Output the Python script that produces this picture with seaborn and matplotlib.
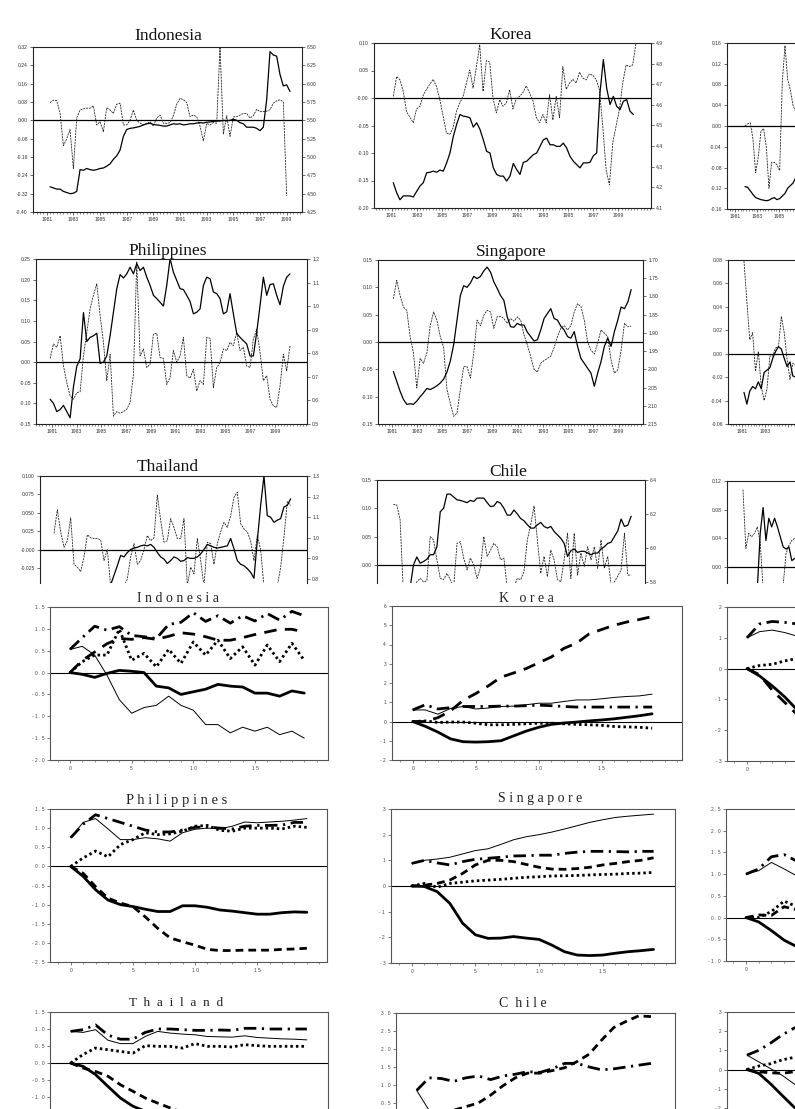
import numpy as np
import matplotlib
matplotlib.use("Agg")
import matplotlib.pyplot as plt
import seaborn as sns
from matplotlib.ticker import MultipleLocator

sns.set_theme(style="white")
plt.rcParams["font.family"] = ["Liberation Sans", "DejaVu Sans"]
plt.rcParams["axes.linewidth"] = 0.8

# ---------------------------------------------------------------- data: time series (top)
years_major = [1981, 1983, 1985, 1987, 1989, 1991, 1993, 1995, 1997, 1999]

indo_solid = [-0.29, -0.295, -0.30, -0.30, -0.31, -0.315, -0.32, -0.318, -0.31, -0.215,
              -0.218, -0.21, -0.215, -0.218, -0.215, -0.21, -0.208, -0.20, -0.19, -0.17,
              -0.155, -0.13, -0.07, -0.04, -0.035, -0.033, -0.03, -0.026, -0.02, -0.015,
              -0.013, -0.018, -0.02, -0.022, -0.025, -0.025, -0.02, -0.015, -0.017, -0.015,
              -0.02, -0.018, -0.015, -0.015, -0.012, -0.01, -0.012, -0.008, -0.007, -0.005,
              -0.003, -0.003, 0.0, -0.002, 0.0, 0.005, 0.0, -0.01, -0.015, -0.03,
              -0.03, -0.03, -0.035, -0.045, -0.03, 0.09, 0.30, 0.285, 0.28, 0.2,
              0.15, 0.155, 0.126]
indo_dashed = [0.077, 0.088, 0.086, 0.03, -0.11, -0.08, -0.04, -0.21, 0.01, 0.045,
               0.05, 0.053, 0.053, 0.063, -0.02, -0.006, -0.05, 0.055, 0.045, 0.03,
               0.07, 0.075, -0.02, -0.02, 0.0, 0.045, 0.0, -0.012, -0.02, -0.015,
               -0.006, -0.025, 0.01, 0.023, -0.013, -0.013, -0.01, 0.02, 0.07, 0.096,
               0.09, 0.078, 0.016, 0.023, 0.016, -0.025, -0.09, -0.013, -0.02, -0.01,
               -0.013, 0.32, -0.06, 0.02, -0.07, 0.015, 0.016, 0.023, 0.03, 0.03,
               0.01, 0.02, 0.048, 0.038, 0.038, 0.04, 0.046, 0.075, 0.085, 0.09,
               0.08, -0.33]

korea_solid = [-0.154, -0.172, -0.185, -0.178, -0.178, -0.178, -0.18, -0.17, -0.16, -0.154,
               -0.136, -0.135, -0.133, -0.135, -0.131, -0.133, -0.118, -0.1, -0.07, -0.048,
               -0.03, -0.033, -0.034, -0.036, -0.053, -0.045, -0.057, -0.076, -0.097, -0.1,
               -0.127, -0.139, -0.142, -0.142, -0.151, -0.142, -0.119, -0.13, -0.139, -0.117,
               -0.115, -0.109, -0.103, -0.1, -0.088, -0.076, -0.073, -0.085, -0.085, -0.088,
               -0.088, -0.082, -0.091, -0.106, -0.115, -0.121, -0.127, -0.118, -0.118, -0.117,
               -0.105, -0.1, 0.01, 0.07, 0.018, -0.012, 0.003, -0.015, -0.021, -0.006,
               -0.003, -0.024, -0.03]
korea_dashed = [0.003, 0.039, 0.033, 0.012, -0.025, -0.035, -0.045, -0.02, -0.015, 0.005,
                0.016, 0.025, 0.034, 0.021, -0.003, -0.033, -0.064, -0.066, -0.054, -0.024,
                -0.009, 0.003, 0.027, 0.051, 0.018, 0.057, 0.097, 0.012, 0.068, 0.065,
                0.0, -0.027, -0.003, -0.015, -0.009, 0.015, -0.02, -0.001, 0.003, 0.01,
                0.022, 0.009, -0.005, -0.035, -0.045, -0.03, -0.045, 0.006, -0.04, 0.003,
                -0.036, 0.057, 0.016, 0.027, 0.034, 0.027, 0.047, 0.036, 0.033, 0.044,
                0.041, 0.034, 0.015, -0.051, -0.13, -0.158, -0.082, -0.051, -0.021, 0.027,
                0.06, 0.057, 0.06, 0.10]

c3a_solid = [-0.117, -0.118, -0.125, -0.132, -0.138, -0.14, -0.142, -0.143, -0.144, -0.143,
             -0.14, -0.138, -0.142, -0.14, -0.135, -0.13, -0.12, -0.115, -0.11, -0.10, -0.09]
c3a_dashed = [0.0, 0.004, 0.006, -0.025, -0.09, -0.06, -0.01, -0.005, -0.04, -0.12,
              -0.07, -0.07, -0.075, -0.086, 0.085, 0.155, 0.09, 0.07, 0.04, 0.028, 0.02]

phil_solid = [-0.09, -0.10, -0.12, -0.115, -0.105, -0.12, -0.135, -0.06, -0.01, 0.008,
              0.12, 0.05, 0.06, 0.064, 0.07, -0.003, 0.0, 0.015, 0.064, 0.121,
              0.178, 0.212, 0.204, 0.214, 0.23, 0.214, 0.239, 0.222, 0.23, 0.206,
              0.186, 0.162, 0.154, 0.145, 0.136, 0.186, 0.251, 0.218, 0.198, 0.178,
              0.176, 0.162, 0.147, 0.117, 0.121, 0.129, 0.186, 0.206, 0.202, 0.17,
              0.166, 0.154, 0.117, 0.122, 0.166, 0.117, 0.07, 0.06, 0.052, 0.044,
              0.015, 0.015, 0.072, 0.137, 0.206, 0.162, 0.188, 0.19, 0.162, 0.139,
              0.184, 0.206, 0.214]
phil_dashed = [0.009, 0.044, 0.036, 0.064, -0.009, -0.05, -0.082, -0.09, -0.074, -0.072,
               0.015, 0.072, 0.129, 0.162, 0.19, 0.113, 0.048, -0.045, 0.019, -0.131,
               -0.12, -0.124, -0.12, -0.114, -0.098, -0.03, 0.243, 0.015, 0.032, -0.013,
               -0.005, 0.068, 0.07, 0.011, 0.009, -0.054, -0.037, 0.028, 0.0, 0.015,
               0.06, -0.033, -0.039, -0.017, -0.07, -0.045, -0.054, 0.06, 0.058, -0.062,
               -0.013, -0.001, 0.032, 0.028, 0.048, 0.04, 0.072, 0.028, 0.036, -0.009,
               -0.013, 0.056, 0.08, 0.024, -0.045, -0.033, -0.09, -0.106, -0.11, -0.058,
               0.019, -0.021, 0.04]

sing_solid = [-0.054, -0.072, -0.09, -0.105, -0.114, -0.113, -0.114, -0.108, -0.1, -0.093,
              -0.085, -0.087, -0.084, -0.08, -0.075, -0.068, -0.055, -0.035, -0.005, 0.04,
              0.085, 0.103, 0.1, 0.108, 0.12, 0.116, 0.12, 0.13, 0.137, 0.128,
              0.11, 0.098, 0.085, 0.076, 0.046, 0.028, 0.027, 0.034, 0.031, 0.031,
              0.018, 0.01, 0.002, 0.004, 0.022, 0.043, 0.052, 0.061, 0.043, 0.04,
              0.029, 0.022, 0.01, 0.007, 0.019, -0.008, -0.03, -0.039, -0.048, -0.057,
              -0.081, -0.057, -0.036, -0.008, 0.007, -0.008, 0.019, 0.04, 0.064, 0.061,
              0.073, 0.096]
sing_dashed = [0.079, 0.113, 0.085, 0.064, 0.058, 0.01, -0.02, -0.084, -0.03, -0.039,
               -0.02, 0.03, 0.055, 0.04, 0.01, -0.01, -0.087, -0.112, -0.136, -0.13,
               -0.087, -0.045, -0.045, -0.066, -0.02, 0.04, 0.03, 0.049, 0.058, 0.055,
               0.025, 0.046, 0.047, 0.043, 0.034, 0.043, 0.038, 0.046, 0.04, 0.013,
               -0.005, -0.027, -0.05, -0.055, -0.039, -0.034, -0.03, -0.026, -0.01, 0.01,
               0.025, 0.03, 0.022, 0.03, 0.055, 0.07, 0.065, 0.04, 0.0, -0.015,
               -0.022, -0.002, 0.022, 0.016, 0.01, -0.033, -0.057, -0.051, -0.015, 0.034,
               0.028, 0.029]

c3b_solid = [-0.033, -0.043, -0.032, -0.028, -0.03, -0.024, -0.03, -0.016, -0.014, -0.012,
             -0.004, 0.002, 0.006, 0.004, -0.004, -0.011, -0.007, -0.019, -0.02]
c3b_dashed = [0.079, 0.045, 0.012, 0.018, -0.015, 0.002, -0.028, -0.04, -0.03, -0.002,
              -0.002, 0.005, 0.006, 0.032, 0.018, -0.005, -0.022, -0.008, -0.01]

thai_solid = [-0.07, -0.07, -0.07, -0.07, -0.07, -0.07, -0.065, -0.065, -0.065, -0.065,
              -0.065, -0.065, -0.065, -0.06, -0.06, -0.06, -0.055, -0.048, -0.035, -0.022,
              -0.008, -0.01, -0.004, 0.0, 0.002, 0.003, 0.005, 0.006, 0.005, 0.007,
              0.003, -0.004, -0.01, -0.013, -0.019, -0.015, -0.01, -0.012, -0.016, -0.015,
              -0.011, -0.012, -0.012, -0.01, -0.006, 0.0, 0.007, 0.005, 0.003, 0.002,
              0.003, 0.004, 0.005, 0.015, 0.001, -0.015, -0.02, -0.022, -0.026, -0.031,
              -0.039, 0.012, 0.06, 0.1, 0.046, 0.044, 0.037, 0.04, 0.042, 0.058,
              0.06, 0.069]
thai_dashed = [0.022, 0.054, 0.024, 0.003, 0.012, 0.043, -0.02, -0.024, -0.03, -0.01,
               0.02, 0.016, 0.015, 0.015, 0.013, -0.015, 0.0, -0.05, -0.06, -0.06,
               -0.055, -0.05, -0.04, -0.01, 0.008, -0.02, -0.015, 0.0, 0.019, 0.012,
               0.016, 0.074, 0.04, 0.01, 0.012, 0.042, 0.03, 0.015, 0.015, 0.042,
               -0.049, -0.024, -0.033, 0.015, -0.015, -0.05, 0.01, 0.008, -0.02, 0.008,
               0.024, 0.037, 0.03, 0.046, 0.071, 0.078, 0.035, 0.028, 0.024, 0.012,
               -0.015, 0.019, 0.0, -0.05, -0.06, -0.07, -0.06, -0.05, -0.024, 0.017,
               0.065, 0.06]

chile_solid = [-0.06, -0.06, -0.06, -0.06, -0.055, -0.04, 0.0, 0.014, 0.003, 0.006,
               0.01, 0.018, 0.018, 0.032, 0.094, 0.1, 0.125, 0.125, 0.12, 0.115,
               0.114, 0.112, 0.11, 0.114, 0.112, 0.118, 0.118, 0.118, 0.11, 0.103,
               0.104, 0.112, 0.109, 0.1, 0.088, 0.088, 0.097, 0.09, 0.082, 0.078,
               0.071, 0.065, 0.065, 0.071, 0.075, 0.068, 0.065, 0.068, 0.059, 0.053,
               0.047, 0.038, 0.015, 0.025, 0.028, 0.022, 0.024, 0.024, 0.021, 0.018,
               0.021, 0.021, 0.028, 0.032, 0.038, 0.04, 0.05, 0.06, 0.081, 0.068,
               0.07, 0.086]
chile_dashed = [0.107, 0.106, 0.08, -0.05, -0.05, -0.05, -0.04, -0.03, -0.024, -0.03,
                -0.028, 0.05, 0.044, 0.009, -0.024, -0.026, -0.015, -0.026, -0.04, 0.038,
                0.041, 0.012, -0.009, 0.012, 0.0, -0.024, -0.005, 0.05, 0.015, 0.026,
                0.038, 0.032, 0.009, 0.012, -0.04, -0.045, -0.04, -0.024, -0.026, -0.012,
                0.044, 0.071, 0.104, 0.044, -0.015, 0.015, -0.021, 0.026, 0.009, -0.026,
                -0.03, 0.009, 0.056, -0.024, 0.056, -0.018, 0.021, -0.003, 0.032, 0.009,
                0.032, -0.006, 0.044, -0.006, 0.015, -0.035, -0.03, -0.02, -0.009, 0.056,
                -0.018, -0.018]

c3c_solid = [-0.04, -0.04, -0.04, -0.04, -0.04, -0.03, 0.047, 0.083, 0.037, 0.068,
             0.056, 0.068, 0.056, 0.042, 0.028, 0.025, 0.028, 0.009, 0.012]
c3c_dashed = [0.108, 0.026, 0.047, 0.042, 0.047, 0.056, 0.035, -0.03, -0.03, -0.03,
              -0.03, -0.03, -0.03, -0.03, -0.025, 0.019, 0.03, 0.037, 0.04]

# date spans (first, last observation) of each series
indo_span_s, indo_span_d = (1981.25, 1999.25), (1981.25, 1999.0)
korea_span_s, korea_span_d = (1981.13, 2000.18), (1981.13, 2000.39)
c3a_span = (1981.9, 1986.75)
phil_span = (1980.87, 2000.22)
sing_span = (1981.13, 2000.0)
c3b_span = (1981.17, 1985.67)
thai_span = (1980.92, 2000.0)
chile_span = (1981.13, 2000.0)
c3c_span = (1981.09, 1985.59)

# axis tick values / labels (top)
indo_yt = [-0.40, -0.32, -0.24, -0.16, -0.08, 0.0, 0.08, 0.16, 0.24, 0.32]
indo_yl = ["-0.40", "-0.32", "-0.24", "-0.16", "-0.08", "0.00", "0.08", "0.16", "0.24", "0.32"]
indo_rt = [4.25, 4.5, 4.75, 5.0, 5.25, 5.5, 5.75, 6.0, 6.25, 6.5]
indo_rl = ["4.25", "4.50", "4.75", "5.00", "5.25", "5.50", "5.75", "6.00", "6.25", "6.50"]
korea_yt = [-0.2, -0.15, -0.1, -0.05, 0.0, 0.05, 0.1]
korea_yl = ["-0.20", "-0.15", "-0.10", "-0.05", "-0.00", "0.05", "0.10"]
korea_rt = [4.1, 4.2, 4.3, 4.4, 4.5, 4.6, 4.7, 4.8, 4.9]
korea_rl = ["4.1", "4.2", "4.3", "4.4", "4.5", "4.6", "4.7", "4.8", "4.9"]
c3a_yt = [-0.16, -0.12, -0.08, -0.04, 0.0, 0.04, 0.08, 0.12, 0.16]
c3a_yl = ["-0.16", "-0.12", "-0.08", "-0.04", "0.00", "0.04", "0.08", "0.12", "0.16"]
phil_yt = [-0.15, -0.1, -0.05, 0.0, 0.05, 0.1, 0.15, 0.2, 0.25]
phil_yl = ["-0.15", "-0.10", "-0.05", "0.00", "0.05", "0.10", "0.15", "0.20", "0.25"]
phil_rt = [0.5, 0.6, 0.7, 0.8, 0.9, 1.0, 1.1, 1.2]
phil_rl = ["0.5", "0.6", "0.7", "0.8", "0.9", "1.0", "1.1", "1.2"]
sing_yt = [-0.15, -0.1, -0.05, 0.0, 0.05, 0.1, 0.15]
sing_yl = ["-0.15", "-0.10", "-0.05", "0.00", "0.05", "0.10", "0.15"]
sing_rt = [1.70, 1.75, 1.80, 1.85, 1.90, 1.95, 2.00, 2.05, 2.10, 2.15]
sing_rl = ["1.70", "1.75", "1.80", "1.85", "1.90", "1.95", "2.00", "2.05", "2.10", "2.15"]
c3b_yt = [-0.06, -0.04, -0.02, 0.0, 0.02, 0.04, 0.06, 0.08]
c3b_yl = ["-0.06", "-0.04", "-0.02", "0.00", "0.02", "0.04", "0.06", "0.08"]
thai_yt = [-0.025, 0.0, 0.025, 0.05, 0.075, 0.1]
thai_yl = ["-0.025", "-0.000", "0.025", "0.050", "0.075", "0.100"]
thai_rt = [0.8, 0.9, 1.0, 1.1, 1.2, 1.3]
thai_rl = ["0.8", "0.9", "1.0", "1.1", "1.2", "1.3"]
chile_yt = [0.0, 0.05, 0.1, 0.15]
chile_yl = ["0.00", "0.05", "0.10", "0.15"]
chile_rt = [5.8, 6.0, 6.2, 6.4]
chile_rl = ["5.8", "6.0", "6.2", "6.4"]
c3c_yt = [0.0, 0.04, 0.08, 0.12]
c3c_yl = ["0.00", "0.04", "0.08", "0.12"]

# ---------------------------------------------------------------- data: impulse responses (bottom)
ir_xticks = [0, 5, 10, 15]
ir_xlabels = ["0", "5", "10", "15"]

indo_ir_thick = [0, -0.04, -0.11, -0.02, 0.05, 0.03, 0.0, -0.31, -0.35, -0.5, -0.44, -0.38, -0.27, -0.31, -0.33, -0.47, -0.47, -0.54, -0.42, -0.47]
indo_ir_thin = [0.53, 0.6, 0.4, -0.06, -0.62, -0.93, -0.8, -0.75, -0.54, -0.75, -0.86, -1.19, -1.19, -1.38, -1.25, -1.34, -1.25, -1.42, -1.34, -1.5]
indo_ir_dashdot = [0.53, 0.8, 1.06, 0.97, 1.05, 0.85, 0.82, 0.78, 1.1, 1.15, 1.37, 1.17, 1.3, 1.13, 1.3, 1.18, 1.35, 1.2, 1.4, 1.3]
indo_ir_longdash = [0.0, 0.28, 0.47, 0.66, 0.78, 0.76, 0.8, 0.76, 0.83, 0.91, 0.88, 0.82, 0.74, 0.74, 0.8, 0.87, 0.93, 0.99, 0.99, 0.93]
indo_ir_dotted = [0.0, 0.25, 0.4, 0.4, 0.99, 0.28, 0.44, 0.13, 0.53, 0.21, 0.7, 0.4, 0.74, 0.32, 0.59, 0.17, 0.63, 0.25, 0.67, 0.28]
indo_ir_yt = [-2.0, -1.5, -1.0, -0.5, 0.0, 0.5, 1.0, 1.5]
indo_ir_yl = ["-2.0", "-1.5", "-1.0", "-0.5", "0.0", "0.5", "1.0", "1.5"]

korea_ir_thick = [0, -0.25, -0.55, -0.9, -1.05, -1.07, -1.05, -1.0, -0.75, -0.5, -0.3, -0.15, -0.08, -0.03, 0.03, 0.08, 0.14, 0.22, 0.3, 0.4]
korea_ir_thin = [0.6, 0.6, 0.38, 0.68, 0.78, 0.65, 0.7, 0.78, 0.8, 0.87, 0.95, 0.95, 1.04, 1.12, 1.12, 1.18, 1.25, 1.3, 1.33, 1.42]
korea_ir_longdash = [0, 0.0, 0.2, 0.55, 1.1, 1.45, 1.85, 2.3, 2.52, 2.75, 3.05, 3.35, 3.8, 4.07, 4.55, 4.78, 5.0, 5.17, 5.3, 5.45]
korea_ir_dashdot = [0.6, 0.87, 0.65, 0.72, 0.78, 0.78, 0.78, 0.8, 0.8, 0.82, 0.85, 0.82, 0.78, 0.75, 0.75, 0.75, 0.75, 0.75, 0.75, 0.75]
korea_ir_dotted = [0, 0.03, -0.05, -0.03, -0.03, -0.09, -0.17, -0.17, -0.15, -0.12, -0.09, -0.09, -0.12, -0.15, -0.17, -0.2, -0.26, -0.28, -0.3, -0.35]
korea_ir_yt = [-2, -1, 0, 1, 2, 3, 4, 5, 6]
korea_ir_yl = ["-2", "-1", "0", "1", "2", "3", "4", "5", "6"]

c3a_ir_thick = [0, -0.24, -0.56, -0.92, -1.35, -1.7]
c3a_ir_thin = [1.0, 1.2, 1.25, 1.17, 1.05, 0.95]
c3a_ir_dashdot = [1.0, 1.45, 1.53, 1.5, 1.45, 1.4]
c3a_ir_dotted = [0, 0.1, 0.14, 0.25, 0.33, 0.4]
c3a_ir_longdash = [0, -0.2, -0.7, -1.1, -1.5, -1.8]
c3a_ir_yt = [-3, -2, -1, 0, 1, 2]
c3a_ir_yl = ["-3", "-2", "-1", "0", "1", "2"]

phil_ir_thin = [0.75, 1.15, 1.25, 0.98, 0.7, 0.7, 0.75, 0.72, 0.66, 0.88, 0.97, 1.0, 0.98, 1.05, 1.16, 1.14, 1.16, 1.18, 1.21, 1.25]
phil_ir_dashdot = [0.75, 1.1, 1.35, 1.25, 1.15, 1.05, 0.95, 0.9, 0.9, 0.95, 1.02, 1.03, 1.0, 0.98, 1.05, 1.07, 1.07, 1.08, 1.15, 1.15]
phil_ir_dotted = [0, 0.22, 0.4, 0.25, 0.57, 0.7, 0.88, 0.83, 0.85, 0.92, 1.05, 1.07, 0.94, 0.92, 1.0, 1.0, 1.0, 0.98, 1.05, 1.02]
phil_ir_thick = [0, -0.26, -0.61, -0.88, -1.0, -1.05, -1.12, -1.18, -1.18, -1.03, -1.03, -1.07, -1.14, -1.17, -1.21, -1.25, -1.25, -1.21, -1.19, -1.2]
phil_ir_dash = [0, -0.18, -0.53, -0.83, -0.96, -1.05, -1.32, -1.62, -1.87, -1.97, -2.06, -2.17, -2.2, -2.2, -2.19, -2.19, -2.19, -2.17, -2.16, -2.14]
phil_ir_yt = [-2.5, -2.0, -1.5, -1.0, -0.5, 0.0, 0.5, 1.0, 1.5]
phil_ir_yl = ["-2.5", "-2.0", "-1.5", "-1.0", "-0.5", "0.0", "0.5", "1.0", "1.5"]

sing_ir_thin = [0.88, 1.0, 1.05, 1.12, 1.25, 1.38, 1.45, 1.62, 1.8, 1.92, 2.0, 2.1, 2.22, 2.35, 2.48, 2.58, 2.67, 2.72, 2.76, 2.8]
sing_ir_dashdot = [0.88, 1.0, 0.9, 0.82, 0.95, 1.04, 1.08, 1.12, 1.17, 1.18, 1.2, 1.2, 1.27, 1.32, 1.35, 1.35, 1.34, 1.33, 1.35, 1.35]
sing_ir_dash = [0, 0.03, 0.1, 0.23, 0.49, 0.82, 1.0, 1.0, 0.95, 0.84, 0.73, 0.66, 0.65, 0.68, 0.73, 0.82, 0.88, 0.95, 1.0, 1.1]
sing_ir_dotted = [0, 0.1, -0.05, 0.1, 0.15, 0.2, 0.23, 0.26, 0.3, 0.34, 0.36, 0.39, 0.4, 0.41, 0.43, 0.45, 0.46, 0.49, 0.5, 0.53]
sing_ir_thick = [0, -0.02, -0.22, -0.68, -1.45, -1.9, -2.04, -2.03, -1.97, -2.03, -2.08, -2.3, -2.56, -2.69, -2.71, -2.69, -2.62, -2.56, -2.52, -2.47]
sing_ir_yt = [-3, -2, -1, 0, 1, 2, 3]
sing_ir_yl = ["-3", "-2", "-1", "0", "1", "2", "3"]

c3b_ir_thick = [0, -0.1, -0.3, -0.52, -0.67, -0.8]
c3b_ir_thin = [1.0, 1.08, 1.27, 1.12, 0.96, 0.85]
c3b_ir_dashdot = [1.0, 1.12, 1.4, 1.45, 1.3, 1.2]
c3b_ir_dotted = [0, 0.0, 0.14, 0.38, 0.25, 0.3]
c3b_ir_dash = [0, 0.06, 0.05, 0.25, 0.18, 0.2]
c3b_ir_yt = [-1.0, -0.5, 0.0, 0.5, 1.0, 1.5, 2.0, 2.5]
c3b_ir_yl = ["-1.0", "-0.5", "0.0", "0.5", "1.0", "1.5", "2.0", "2.5"]

thai_ir_thin = [0.93, 0.9, 0.98, 0.67, 0.57, 0.57, 0.78, 0.93, 0.88, 0.85, 0.83, 0.78, 0.77, 0.76, 0.8, 0.75, 0.73, 0.71, 0.7, 0.68]
thai_ir_dashdot = [0.93, 0.98, 1.12, 0.82, 0.7, 0.7, 0.9, 1.0, 1.0, 0.98, 0.96, 0.96, 0.97, 0.96, 1.02, 1.02, 1.0, 1.0, 1.0, 1.0]
thai_ir_dotted = [0, 0.25, 0.44, 0.39, 0.34, 0.29, 0.51, 0.49, 0.49, 0.44, 0.57, 0.49, 0.49, 0.47, 0.54, 0.51, 0.49, 0.49, 0.49, 0.49]
thai_ir_thick = [0, -0.1, -0.34, -0.69, -1.03, -1.27, -1.42, -1.55]
thai_ir_dash = [0, -0.15, -0.25, -0.39, -0.64, -0.83, -1.03, -1.18, -1.32, -1.45]
thai_ir_yt = [-1.0, -0.5, 0.0, 0.5, 1.0, 1.5]
thai_ir_yl = ["-1.0", "-0.5", "0.0", "0.5", "1.0", "1.5"]

chile_ir_dashdot = [0.85, 1.2, 1.18, 1.1, 1.2, 1.25, 1.15, 1.25, 1.3, 1.37, 1.35, 1.45, 1.6, 1.6, 1.5, 1.42, 1.45, 1.5, 1.55, 1.6]
chile_ir_dash = [0.0, 0.1, 0.2, 0.3, 0.4, 0.5, 0.72, 0.98, 1.2, 1.33, 1.33, 1.4, 1.48, 1.65, 1.86, 2.25, 2.6, 2.77, 2.92, 2.9]
chile_ir_thin = [0.85, 0.3, 0.1]
chile_ir_yt = [0.5, 1.0, 1.5, 2.0, 2.5, 3.0]
chile_ir_yl = ["0.5", "1.0", "1.5", "2.0", "2.5", "3.0"]

c3c_ir_dashdot = [0.75, 1.0, 1.37, 1.8, 2.15, 2.4]
c3c_ir_thin = [0.75, 0.4, 0.05, -0.3, -0.74, -1.1]
c3c_ir_dotted = [0, 0.18, 0.3, 0.5, 0.63, 0.75]
c3c_ir_thick = [0, -0.2, -0.74, -1.35, -1.95, -2.5]
c3c_ir_dash = [0, -0.12, -0.17, -0.2, -0.12, -0.1]
c3c_ir_yt = [-2, -1, 0, 1, 2, 3]
c3c_ir_yl = ["-2", "-1", "0", "1", "2", "3"]

# ---------------------------------------------------------------- figure helpers
W, H = 795, 1109
fig = plt.figure(figsize=(W / 100, H / 100), dpi=100)
fig.patch.set_facecolor("white")

SERIF = ["Liberation Serif", "DejaVu Serif"]
TICK_COLOR = "#333333"


def px_axes(l, t, r, b):
    return fig.add_axes([l / W, 1 - b / H, (r - l) / W, (b - t) / H])


def px_text(x, y, s, **kw):
    fig.text(x / W, 1 - y / H, s, **kw)


def spaced(s):
    return " ".join(s)


def ts_panel(box, xlim, ylim, yt, yl, solid, s_span, dashed, d_span,
             right=None, bottom=True, n_xlabels=None):
    ax = px_axes(*box)
    ax.set_facecolor("white")
    ax.axhline(0, color="black", lw=0.9, zorder=2)
    sns.lineplot(x=np.linspace(d_span[0], d_span[1], len(dashed)), y=dashed, ax=ax,
                 color="#222222", linewidth=0.6, linestyle=(0, (2.4, 1.1)),
                 estimator=None, sort=False, legend=False)
    sns.lineplot(x=np.linspace(s_span[0], s_span[1], len(solid)), y=solid, ax=ax,
                 color="black", linewidth=0.9, estimator=None, sort=False, legend=False)
    ax.set_xlim(xlim)
    ax.set_ylim(ylim)
    ax.set_yticks(yt, labels=yl)
    labels = [str(y) for y in years_major]
    if n_xlabels is not None:
        labels = [s if i < n_xlabels else "" for i, s in enumerate(labels)]
    ax.set_xticks(years_major, labels=labels)
    ax.xaxis.set_minor_locator(MultipleLocator(0.25))
    ax.set_xlabel("")
    ax.set_ylabel("")
    for sp in ax.spines.values():
        sp.set_color("#222222")
        sp.set_linewidth(0.8)
    ax.tick_params(axis="both", which="major", direction="out", length=2.2, width=0.5,
                   labelsize=3.6, colors=TICK_COLOR, pad=1.5, left=True, bottom=True,
                   right=False, top=False)
    ax.tick_params(axis="x", which="minor", direction="out", length=1.2, width=0.4,
                   bottom=True, colors=TICK_COLOR)
    if not bottom:
        ax.spines["bottom"].set_visible(False)
        ax.tick_params(axis="x", which="both", bottom=False, labelbottom=False)
    if right is not None:
        rlim, rt, rl = right
        ax2 = ax.twinx()
        ax2.set_ylim(rlim)
        ax2.set_yticks(rt, labels=rl)
        ax2.grid(False)
        for sp in ax2.spines.values():
            sp.set_visible(False)
        ax2.tick_params(axis="y", direction="out", length=2.2, width=0.5, labelsize=3.6,
                        colors=TICK_COLOR, pad=1.5, right=True, left=False)
    return ax


IR_STYLES = {
    "thick": dict(linewidth=2.0, linestyle="-"),
    "thin": dict(linewidth=0.7, linestyle="-"),
    "longdash": dict(linewidth=2.0, linestyle=(0, (4.5, 3.0))),
    "dashdot": dict(linewidth=2.0, linestyle=(0, (4.5, 2.0, 0.8, 2.0))),
    "dotted": dict(linewidth=2.0, linestyle=(0, (0.9, 1.1))),
    "dash": dict(linewidth=2.0, linestyle=(0, (2.8, 1.8))),
}


def ir_panel(box, x0, step, ylim, yt, yl, lines, n_xlabels=None, xlabels_on=True):
    l, t, r, b = box
    ax = px_axes(*box)
    ax.set_facecolor("white")
    ax.axhline(0, color="black", lw=0.8, zorder=1)
    for vals, key in lines:
        sns.lineplot(x=np.arange(len(vals)), y=vals, ax=ax, color="black",
                     estimator=None, sort=False, legend=False, **IR_STYLES[key])
    ax.set_xlim((l - x0) / step, (r - x0) / step)
    ax.set_ylim(ylim)
    xl = [spaced(s) for s in ir_xlabels]
    if n_xlabels is not None:
        xl = [s if i < n_xlabels else "" for i, s in enumerate(xl)]
    ax.set_xticks(ir_xticks, labels=xl)
    ax.xaxis.set_minor_locator(MultipleLocator(1))
    ax.set_yticks(yt, labels=[spaced(s) for s in yl])
    ax.set_xlabel("")
    ax.set_ylabel("")
    for sp in ax.spines.values():
        sp.set_color("#555555")
        sp.set_linewidth(0.8)
    ax.tick_params(axis="both", which="major", direction="out", length=2.2, width=0.5,
                   labelsize=3.5, colors="#444444", pad=2, left=True, bottom=True)
    ax.tick_params(axis="x", which="minor", direction="out", length=1.5, width=0.4,
                   bottom=True, colors="#444444")
    if not xlabels_on:
        ax.tick_params(axis="x", which="both", labelbottom=False)
    return ax


# ---------------------------------------------------------------- top section
ts_panel((33, 47, 302, 212), (1979.97, 2000.15), (-0.40, 0.32), indo_yt, indo_yl,
         indo_solid, indo_span_s, indo_dashed, indo_span_d,
         right=((4.25, 6.5), indo_rt, indo_rl))
ts_panel((374, 43, 651, 208), (1979.6, 2001.58), (-0.2, 0.1), korea_yt, korea_yl,
         korea_solid, korea_span_s, korea_dashed, korea_span_d,
         right=((4.1, 4.9), korea_rt, korea_rl))
ts_panel((727, 43, 997, 209), (1980.27, 2004.8), (-0.16, 0.16), c3a_yt, c3a_yl,
         c3a_solid, c3a_span, c3a_dashed, c3a_span, n_xlabels=3)

ts_panel((36, 259, 307, 424), (1979.73, 2001.59), (-0.15, 0.25), phil_yt, phil_yl,
         phil_solid, phil_span, phil_dashed, phil_span,
         right=((0.5, 1.2), phil_rt, phil_rl))
ts_panel((378, 260, 643, 424), (1979.91, 2000.94), (-0.15, 0.15), sing_yt, sing_yl,
         sing_solid, sing_span, sing_dashed, sing_span,
         right=((2.15, 1.70), sing_rt, sing_rl))
ts_panel((728, 260, 998, 424), (1979.78, 2003.26), (-0.06, 0.08), c3b_yt, c3b_yl,
         c3b_solid, c3b_span, c3b_dashed, c3b_span, n_xlabels=2)

ts_panel((40, 476, 307, 583), (1979.79, 2001.32), (-0.0455, 0.1), thai_yt, thai_yl,
         thai_solid, thai_span, thai_dashed, thai_span,
         right=((0.78, 1.3), thai_rt, thai_rl), bottom=False)
ts_panel((377, 480, 645, 583), (1979.83, 2001.1), (-0.032, 0.15), chile_yt, chile_yl,
         chile_solid, chile_span, chile_dashed, chile_span,
         right=((5.794, 6.4), chile_rt, chile_rl), bottom=False)
ts_panel((727, 481, 997, 583), (1979.7, 2003.2), (-0.0223, 0.12), c3c_yt, c3c_yl,
         c3c_solid, c3c_span, c3c_dashed, c3c_span, bottom=False)

for (x, y, s) in [(168, 40, "Indonesia"), (511, 39, "Korea"),
                  (168, 255, "Philippines"), (511, 256, "Singapore"),
                  (168, 471, "Thailand"), (508, 476, "Chile")]:
    px_text(x, y, s, ha="center", va="baseline", family=SERIF, fontsize=12.5,
            color="#111111", zorder=5)

# ---------------------------------------------------------------- bottom section
ir_panel((50, 607, 328, 760), 70, 12.33, (-2.0, 1.5), indo_ir_yt, indo_ir_yl,
         [(indo_ir_thin, "thin"), (indo_ir_longdash, "longdash"), (indo_ir_dotted, "dotted"),
          (indo_ir_dashdot, "dashdot"), (indo_ir_thick, "thick")])
ir_panel((392, 606, 682, 760), 412.7, 12.6, (-2, 6), korea_ir_yt, korea_ir_yl,
         [(korea_ir_thin, "thin"), (korea_ir_longdash, "longdash"), (korea_ir_dotted, "dotted"),
          (korea_ir_dashdot, "dashdot"), (korea_ir_thick, "thick")])
ir_panel((727, 607, 1017, 761), 747, 12.6, (-3, 2), c3a_ir_yt, c3a_ir_yl,
         [(c3a_ir_thin, "thin"), (c3a_ir_longdash, "longdash"), (c3a_ir_dotted, "dotted"),
          (c3a_ir_dashdot, "dashdot"), (c3a_ir_thick, "thick")], n_xlabels=1)

ir_panel((50, 809, 327, 962), 70.7, 12.43, (-2.5, 1.5), phil_ir_yt, phil_ir_yl,
         [(phil_ir_thin, "thin"), (phil_ir_dash, "dash"), (phil_ir_dotted, "dotted"),
          (phil_ir_dashdot, "dashdot"), (phil_ir_thick, "thick")])
ir_panel((391, 809, 675, 963), 411.7, 12.73, (-3, 3), sing_ir_yt, sing_ir_yl,
         [(sing_ir_thin, "thin"), (sing_ir_dash, "dash"), (sing_ir_dotted, "dotted"),
          (sing_ir_dashdot, "dashdot"), (sing_ir_thick, "thick")])
ir_panel((726, 809, 1010, 961), 746, 12.7, (-1.0, 2.5), c3b_ir_yt, c3b_ir_yl,
         [(c3b_ir_thin, "thin"), (c3b_ir_dash, "dash"), (c3b_ir_dotted, "dotted"),
          (c3b_ir_dashdot, "dashdot"), (c3b_ir_thick, "thick")], n_xlabels=1)

ir_panel((50, 1012, 328, 1148), 70.7, 12.43, (-2.5, 1.5), thai_ir_yt, thai_ir_yl,
         [(thai_ir_thin, "thin"), (thai_ir_dash, "dash"), (thai_ir_dotted, "dotted"),
          (thai_ir_dashdot, "dashdot"), (thai_ir_thick, "thick")], xlabels_on=False)
ir_panel((396, 1013, 675, 1121), 416.7, 12.33, (0.0, 3.0), chile_ir_yt, chile_ir_yl,
         [(chile_ir_thin, "thin"), (chile_ir_dash, "dash"), (chile_ir_dashdot, "dashdot")],
         xlabels_on=False)
ir_panel((727, 1012, 1011, 1127), 747, 11.7, (-3, 3), c3c_ir_yt, c3c_ir_yl,
         [(c3c_ir_thin, "thin"), (c3c_ir_dash, "dash"), (c3c_ir_dotted, "dotted"),
          (c3c_ir_dashdot, "dashdot"), (c3c_ir_thick, "thick")], xlabels_on=False)

for (x, y, s, fs) in [(178, 602, "I n d o n e s i a", 10), (526, 602, "K   o r e a", 10),
                      (177, 804, "P h i l i p p i n e s", 10.5), (540, 802, "S i n g a p o r e", 10),
                      (176, 1006, "T  h  a  i  l  a  n  d", 9.5), (523, 1007, "C  h i l e", 10)]:
    px_text(x, y, s, ha="center", va="baseline", family=SERIF, fontsize=fs, color="#222222")

fig.savefig("out.png", dpi=100, facecolor="white")
